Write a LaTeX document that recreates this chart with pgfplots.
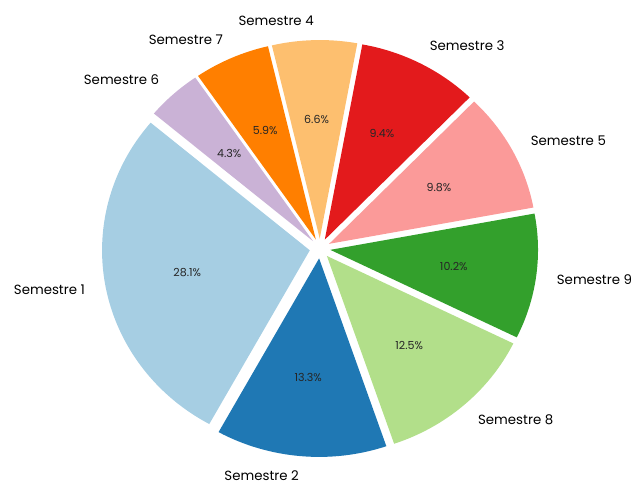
\documentclass[border=0pt]{standalone}
\usepackage{pgfplots}
\pgfplotsset{compat=1.18}
\usepackage{fontspec}
\setmainfont{Poppins}
\definecolor{cA}{HTML}{A6CEE3}
\definecolor{cB}{HTML}{1F78B4}
\definecolor{cC}{HTML}{B2DF8A}
\definecolor{cD}{HTML}{33A02C}
\definecolor{cE}{HTML}{FB9A99}
\definecolor{cF}{HTML}{E31A1C}
\definecolor{cG}{HTML}{FDBF6F}
\definecolor{cH}{HTML}{FF7F00}
\definecolor{cI}{HTML}{CAB2D6}
% slice values (percent), in drawing order, counter-clockwise from 140 deg
\def\total{100.1}
\def\curang{140}
\newcommand\defslice[2]{%
  \pgfmathsetmacro\tmpend{\curang + #2/\total*360}%
  \pgfmathsetmacro\tmpmid{(\curang+\tmpend)/2}%
  \expandafter\xdef\csname s#1\endcsname{\curang}%
  \expandafter\xdef\csname e#1\endcsname{\tmpend}%
  \pgfmathsetmacro\tmp{0.05*cos(\tmpmid)}\expandafter\xdef\csname ax#1\endcsname{\tmp}%
  \pgfmathsetmacro\tmp{0.05*sin(\tmpmid)}\expandafter\xdef\csname ay#1\endcsname{\tmp}%
  \pgfmathsetmacro\tmp{1.15*cos(\tmpmid)}\expandafter\xdef\csname lx#1\endcsname{\tmp}%
  \pgfmathsetmacro\tmp{1.15*sin(\tmpmid)}\expandafter\xdef\csname ly#1\endcsname{\tmp}%
  \pgfmathsetmacro\tmp{0.65*cos(\tmpmid)}\expandafter\xdef\csname px#1\endcsname{\tmp}%
  \pgfmathsetmacro\tmp{0.65*sin(\tmpmid)}\expandafter\xdef\csname py#1\endcsname{\tmp}%
  \pgfmathparse{cos(\tmpmid)>0 ? "west" : "east"}\expandafter\xdef\csname an#1\endcsname{\pgfmathresult}%
  \xdef\curang{\tmpend}}
\defslice{A}{28.1}
\defslice{B}{13.3}
\defslice{C}{12.5}
\defslice{D}{10.2}
\defslice{E}{9.8}
\defslice{F}{9.4}
\defslice{G}{6.6}
\defslice{H}{5.9}
\defslice{I}{4.3}
\def\RX{155.8pt}
\def\RY{148.9pt}
\newcommand\slice[4]{% id, colour, label, pct
  \edef\doslice{\noexpand\addplot[fill=#2, draw=none] coordinates {(\csname ax#1\endcsname,\csname ay#1\endcsname)}
    -- ++(\csname s#1\endcsname:\RX\space and \RY)
    arc[start angle=\csname s#1\endcsname, end angle=\csname e#1\endcsname, x radius=\RX, y radius=\RY] -- cycle;
    \noexpand\node[anchor=\csname an#1\endcsname, inner sep=0pt, font=\noexpand\fontsize{10}{12}\noexpand\selectfont] at (axis cs:\csname lx#1\endcsname,\csname ly#1\endcsname) {#3};
    \noexpand\node[inner sep=0pt, text=black!85, font=\noexpand\fontsize{8.3}{10}\noexpand\selectfont] at (axis cs:\csname px#1\endcsname,\csname py#1\endcsname) {#4\noexpand\%};}%
  \doslice}
\begin{document}
\begin{tikzpicture}
\begin{axis}[
  scale only axis, width=476.25pt, height=363pt,
  xmin=-1.5407, xmax=1.5166, ymin=-1.1864, ymax=1.2519,
  hide axis, clip=false]
\path[draw=none] (rel axis cs:0,0) rectangle (rel axis cs:1,1);
\slice{A}{cA}{Semestre 1}{28.1}
\slice{B}{cB}{Semestre 2}{13.3}
\slice{C}{cC}{Semestre 8}{12.5}
\slice{D}{cD}{Semestre 9}{10.2}
\slice{E}{cE}{Semestre 5}{9.8}
\slice{F}{cF}{Semestre 3}{9.4}
\slice{G}{cG}{Semestre 4}{6.6}
\slice{H}{cH}{Semestre 7}{5.9}
\slice{I}{cI}{Semestre 6}{4.3}
\end{axis}
\end{tikzpicture}
\end{document}
